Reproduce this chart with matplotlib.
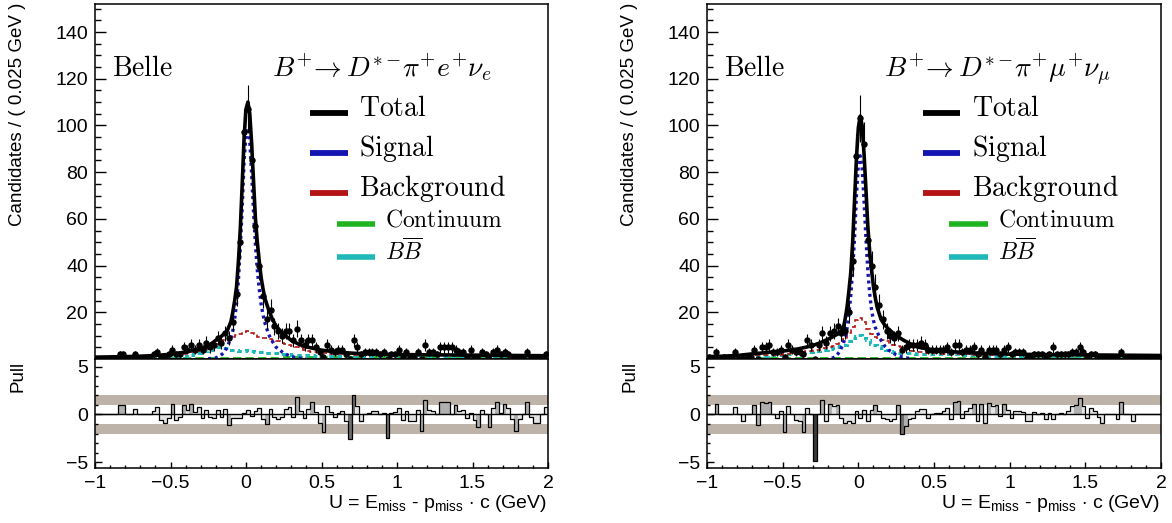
import numpy as np
import matplotlib
matplotlib.use('Agg')
import matplotlib.pyplot as plt

plt.rcParams['font.family'] = ['Liberation Sans', 'DejaVu Sans']
plt.rcParams['mathtext.fontset'] = 'custom'
plt.rcParams['mathtext.rm'] = 'Liberation Sans'
plt.rcParams['mathtext.it'] = 'Liberation Sans:italic'

# %% data: 120 bins of 0.025 GeV between -1 and 2
u_lo, u_hi, n_bins = -1.0, 2.0, 120

# electron channel
e_data = [0, 0, 0, 0, 0, 0, 2, 2, 0, 0,
          2, 0, 0, 0, 0, 2, 3, 1, 1, 2,
          4, 2, 2, 5, 4, 6, 4, 6, 4, 7,
          5, 6, 9, 7, 11, 9, 16, 28, 50, 97,
          107, 85, 57, 40, 27, 17, 21, 14, 12, 10,
          12, 12, 8, 13, 8, 6, 8, 8, 5, 3,
          1, 6, 4, 3, 4, 4, 2, 0, 8, 5,
          2, 3, 3, 3, 3, 2, 3, 0, 2, 2,
          4, 1, 3, 1, 1, 3, 0, 6, 3, 3,
          2, 5, 5, 5, 5, 4, 3, 3, 1, 4,
          1, 0, 3, 2, 0, 3, 4, 2, 3, 2,
          1, 0, 1, 1, 3, 1, 0, 0, 1, 2]
e_pull = [0, 0, 0, 0, 0, 0, 1.0, 1.0, 0, 0,
          0.6, 0, 0, 0, 0, 0.35, 0.8, -0.6, -0.9, -0.4,
          1.1, -0.6, -0.3, 1.0, 0.5, 1.1, 0.3, 0.8, -0.35, 0.5,
          -0.3, -0.4, 0.5, -0.3, 0.6, -1.1, -0.4, -0.4, -0.4, 0.2,
          0.5, -0.2, 0.4, 0.7, -0.5, -1.0, 0.6, -0.3, -0.5, -0.3,
          0.6, 0.8, -0.3, 1.85, 0.4, -0.4, 0.6, 1.3, 0.3, -0.9,
          -1.85, 0.9, 0.3, -0.3, 0.2, 0.4, -0.7, -2.6, 2.1, 0.9,
          -0.7, 0.0, 0.2, 0.35, 0.35, 0.0, 0.2, -2.5, 0.2, 0.25,
          0.7, -0.6, 0.4, -0.7, -0.7, 0.5, -1.75, 1.5, 0.5, 0.35,
          0.1, 1.3, 1.3, 1.3, 0.0, 1.05, 0.35, 0.5, -0.35, 0.2,
          -0.6, -1.3, 0.5, 0.0, -1.3, 0.7, 1.3, 0.2, 1.15, 0.7,
          -0.5, -1.75, -0.5, 0.0, 1.3, -0.3, -0.9, -0.9, 0, 0.8]
e_bkg = [1.0, 1.0, 1.0, 1.0, 1.1, 1.1, 1.1, 1.2, 1.2, 1.2,
         1.2, 1.3, 1.3, 1.3, 1.4, 1.4, 1.4, 1.5, 1.5, 1.6,
         1.6, 1.7, 2.0, 2.2, 2.5, 2.8, 3.2, 3.5, 4.0, 4.3,
         4.8, 5.2, 6.5, 7.5, 8.2, 8.5, 9.5, 10.3, 10.5, 11.5,
         12.0, 11.0, 10.5, 9.5, 9.0, 9.0, 8.5, 8.0, 7.5, 7.0,
         6.5, 6.0, 5.5, 5.2, 4.5, 4.0, 3.6, 3.2, 3.0, 2.8,
         2.6, 2.4, 2.3, 2.2, 2.1, 2.0, 2.0, 1.9, 1.9, 1.9,
         1.8, 1.8, 1.8, 1.8, 1.7, 1.7, 1.7, 1.7, 1.7, 1.7,
         1.6, 1.6, 1.6, 1.6, 1.6, 1.6, 1.6, 1.6, 1.6, 1.6,
         1.6, 1.6, 1.6, 1.5, 1.5, 1.5, 1.5, 1.5, 1.5, 1.5,
         1.5, 1.5, 1.5, 1.4, 1.4, 1.4, 1.4, 1.4, 1.4, 1.4,
         1.4, 1.4, 1.4, 1.4, 1.4, 1.3, 1.3, 1.3, 1.3, 1.3]
e_bb = [0.4] * 10 + \
       [0.5, 0.5, 0.5, 0.5, 0.6, 0.6, 0.7, 0.7, 0.8, 0.8,
        0.9, 0.9, 1.0, 1.0, 1.2, 1.5, 2.0, 2.5, 3.0, 3.5,
        4.0, 4.5, 5.0, 5.0, 4.8, 4.5, 4.0, 3.8, 3.5, 3.5,
        3.8, 3.5, 3.2, 3.0, 2.8, 2.6, 2.5, 2.5, 2.4, 2.3,
        2.2, 2.0, 1.9, 1.8, 1.7, 1.6, 1.5, 1.5, 1.4, 1.4,
        1.3, 1.3, 1.2, 1.2, 1.2, 1.1, 1.1, 1.1, 1.0, 1.0] + \
       [1.0] * 10 + [0.9] * 30 + [0.8] * 10
e_cont = [0.3] * 20 + [0.4] * 10 + [0.5] * 10 + [0.6] * 10 + [0.7] * 40 + [0.6] * 30

# muon channel
mu_data = [1, 0, 3, 0, 1, 0, 1, 3, 1, 0,
           1, 1, 4, 0, 5, 5, 6, 3, 3, 4,
           1, 6, 4, 3, 3, 2, 8, 6, 0, 6,
           11, 7, 11, 12, 14, 11, 12, 20, 42, 87,
           103, 92, 51, 40, 31, 23, 17, 12, 10, 9,
           11, 4, 5, 6, 6, 6, 7, 6, 4, 4,
           4, 4, 4, 5, 3, 6, 6, 3, 4, 4,
           5, 2, 4, 1, 4, 4, 4, 2, 4, 5,
           2, 3, 3, 3, 1, 1, 2, 2, 2, 1,
           2, 5, 2, 2, 2, 2, 3, 3, 5, 3,
           1, 2, 2, 1, 0, 1, 1, 1, 1, 3,
           1, 1, 0, 1, 0, 1, 1, 0, 1, 1]
mu_pull = [0, 0, 1.1, 0, 0, 0, 0, 0.77, 0, -0.7,
           0, 0, 1.05, -1.1, 1.3, 1.25, 1.3, 0, -0.35, 0.35,
           -1.8, 0.9, 0, -0.6, -0.7, -1.8, 0.7, 0, -4.9, 0,
           1.5, -0.7, 1.1, 0.9, 1.05, -0.35, -0.9, -0.7, -0.9, 0.35,
           -0.35, 0.5, -0.7, 0.5, 1.05, 0.35, -0.35, -0.5, -0.7, -0.5,
           1.0, -2.0, -1.2, -0.5, -0.35, 0.35, 0.6, 0.6, -0.35, 0,
           0.2, 0.2, 0.4, 0.7, -0.5, 1.3, 1.4, -0.35, 0.35, 0.7,
           1.1, -0.7, 1.1, -0.9, 1.2, 0.9, 1.05, -0.2, 1.1, 0.5,
           -0.35, 0.4, 0.35, 0.3, -0.7, -0.7, 0.3, 0, 0.2, -0.5,
           0.2, -0.5, 0, 0.2, 0, 0.4, 0.9, 1.05, 1.75, 0.9,
           -0.35, 0.7, 0.35, -0.3, -0.9, 0, 0, 0, -0.5, 1.3,
           0, 0, -0.7, 0, 0, 0, 0, 0, 0, 0]
mu_bkg = [1.0, 1.0, 1.1, 1.1, 1.2, 1.2, 1.3, 1.3, 1.4, 1.4,
          1.5, 1.5, 1.6, 1.6, 1.7, 1.7, 1.8, 1.8, 1.9, 1.9,
          2.0, 2.2, 2.4, 2.6, 2.8, 3.0, 3.3, 3.5, 3.8, 4.0,
          4.3, 4.6, 5.0, 5.5, 6.5, 7.5, 8.5, 11.0, 13.5, 16.5,
          17.5, 16.0, 13.0, 10.5, 9.5, 8.5, 8.0, 7.5, 6.5, 6.0,
          5.5, 5.0, 4.2, 3.8, 3.5, 3.2, 3.0, 2.8, 2.6, 2.5,
          2.4, 2.3, 2.3, 2.2, 2.2, 2.1, 2.1, 2.0, 2.0, 2.0] + \
         [1.9] * 10 + [1.8] * 10 + [1.7] * 10 + [1.6] * 10 + [1.5] * 10
mu_bb = [0.8, 0.8, 0.8, 0.9, 0.9, 0.9, 1.0, 1.0, 1.0, 1.1,
         1.1, 1.1, 1.2, 1.2, 1.3, 1.3, 1.5, 1.6, 1.7, 1.8,
         2.0, 2.1, 2.2, 2.4, 2.5, 2.7, 3.0, 3.2, 3.4, 3.6,
         3.8, 4.0, 4.2, 4.8, 5.3, 5.5, 6.0, 7.5, 9.0, 9.8,
         10.3, 9.0, 8.0, 6.5, 6.0, 5.5, 4.5, 4.0, 3.5, 3.0,
         2.7, 2.5, 2.5, 2.4, 2.4, 2.3, 2.3, 2.2, 2.2, 2.1,
         2.1, 2.1, 2.0, 2.0, 2.0, 2.0, 2.0, 1.9, 1.9, 1.8,
         1.7, 1.6, 1.5, 1.4, 1.4, 1.3, 1.3, 1.3, 1.2, 1.2] + \
        [1.2] * 10 + [1.1] * 20 + [1.0] * 10
mu_cont = [0.5] * 120

# fitted curves, read at these U values
curve_u = [-1.0, -0.9, -0.8, -0.7, -0.6, -0.5, -0.45, -0.4, -0.35, -0.3,
           -0.25, -0.2, -0.175, -0.15, -0.125, -0.1, -0.0875, -0.075, -0.0625, -0.05,
           -0.0375, -0.025, -0.0125, 0.0, 0.0125, 0.025, 0.0375, 0.05, 0.0625, 0.075,
           0.0875, 0.1, 0.1125, 0.125, 0.15, 0.175, 0.2, 0.25, 0.3, 0.35,
           0.4, 0.5, 0.6, 0.7, 0.8, 1.0, 1.2, 1.4, 1.6, 1.8, 2.0]
e_total = [0.8, 0.9, 1.0, 1.2, 1.5, 2.0, 2.5, 3.0, 3.8, 4.5,
           5.5, 8.0, 9.0, 10.5, 12.0, 16.0, 20.0, 25.0, 31.0, 42.0,
           56.0, 75.0, 95.0, 107.0, 110.0, 105.0, 92.0, 76.0, 60.0, 50.0,
           42.0, 35.0, 30.0, 26.0, 21.0, 17.0, 14.0, 10.5, 8.0, 6.3,
           5.2, 3.8, 3.0, 2.5, 2.2, 1.9, 1.8, 1.7, 1.6, 1.5, 1.4]
e_signal = [0, 0, 0, 0, 0, 0, 0, 0, 0, 0,
            0.1, 0.5, 1.2, 2.5, 5.0, 9.0, 12.0, 17.0, 24.0, 34.0,
            48.0, 65.0, 85.0, 96.0, 99.0, 93.0, 79.0, 63.0, 49.0, 38.0,
            30.0, 23.5, 19.0, 15.5, 10.5, 7.5, 5.0, 2.5, 1.0, 0.4,
            0.1, 0, 0, 0, 0, 0, 0, 0, 0, 0, 0]
mu_total = [1.0, 1.2, 1.5, 2.2, 2.8, 3.4, 3.8, 4.3, 5.0, 5.8,
            7.0, 8.5, 9.3, 10.2, 11.3, 13.0, 17.0, 22.0, 29.0, 37.0,
            50.0, 68.0, 86.0, 99.0, 104.0, 100.0, 88.0, 73.0, 57.0, 46.0,
            38.0, 31.0, 26.0, 22.0, 17.0, 14.5, 12.8, 10.0, 8.0, 6.3,
            5.0, 3.8, 3.2, 2.8, 2.5, 2.1, 1.9, 1.8, 1.7, 1.6, 1.5]
mu_signal = [0, 0, 0, 0, 0, 0, 0, 0, 0, 0,
             0, 0, 0.3, 1.0, 3.0, 6.5, 9.0, 13.0, 19.0, 27.0,
             38.0, 52.0, 70.0, 83.0, 87.0, 82.0, 68.0, 52.0, 38.0, 28.0,
             21.0, 16.5, 13.5, 11.5, 8.0, 5.5, 3.8, 1.8, 0.6, 0.2,
             0, 0, 0, 0, 0, 0, 0, 0, 0, 0, 0]

e_title = r'$B^{+}\!\rightarrow D^{*-}\!\pi^{+}e^{+}\nu_{e}$'
mu_title = r'$B^{+}\!\rightarrow D^{*-}\!\pi^{+}\mu^{+}\nu_{\mu}$'

# %% styles
c_sig = '#1414b0'
c_bkg = '#b41414'
c_cont = '#1fb41f'
c_bb = '#1fb8b8'
c_band = '#bdb3a9'

W, H = 1172, 523
fig = plt.figure(figsize=(W / 100, H / 100), dpi=100)

edges = np.linspace(u_lo, u_hi, n_bins + 1)
centers = 0.5 * (edges[1:] + edges[:-1])


def pull_colour(p):
    a = abs(p)
    if a >= 3:
        return '#3c3c3c'
    if a >= 2:
        return '#6e6e6e'
    if a >= 1:
        return '#b0b0b0'
    return '#e4e4e4'


def draw_panel(x0_px, x1_px, data, pull, bkg, bb, cont, total, signal, title):
    xf = x0_px / W
    wf = (x1_px - x0_px) / W
    top, mid, bot = 4, 359, 468
    ax = fig.add_axes([xf, 1 - mid / H, wf, (mid - top) / H])
    axp = fig.add_axes([xf, 1 - bot / H, wf, (bot - mid) / H])

    # background components (histogram templates)
    ax.stairs(cont, edges, color=c_cont, lw=2.0, ls=(0, (3, 1.5)), baseline=None, zorder=2)
    ax.stairs(bb, edges, color=c_bb, lw=2.2, ls=(0, (1.5, 1.2)), baseline=None, zorder=2)
    ax.stairs(bkg, edges, color=c_bkg, lw=1.2, ls=(0, (3, 2)), baseline=None, zorder=2)
    sig = np.array(signal, dtype=float)
    sig[sig <= 0] = np.nan
    ax.plot(curve_u, sig, color=c_sig, lw=2.4, ls=(0, (0.9, 1.1)), zorder=3)
    ax.plot(curve_u, total, color='k', lw=2.6, zorder=4, solid_joinstyle='round')

    d = np.array(data, dtype=float)
    ax.errorbar(centers, d, yerr=np.sqrt(d), fmt='o', color='k', ms=3.6,
                elinewidth=0.8, capsize=0, zorder=5)

    ax.set_xlim(u_lo, u_hi)
    ax.set_ylim(0, 152)
    ax.set_yticks(range(20, 141, 20))
    ax.set_yticks(range(0, 151, 5), minor=True)
    ax.tick_params(axis='y', which='major', direction='in', length=8, width=1, labelsize=14, pad=5)
    ax.tick_params(axis='y', which='minor', direction='in', length=4.3, width=1)
    ax.tick_params(axis='x', which='both', bottom=False, labelbottom=False)
    for s in ax.spines.values():
        s.set_linewidth(1.1)

    tr = ax.transAxes
    ax.text(0.038, 0.797, r'$\mathrm{Belle}$', transform=tr, fontsize=20,
            math_fontfamily='cm', va='baseline')
    ax.text(0.39, 0.797, title, transform=tr, fontsize=20, math_fontfamily='cm', va='baseline')

    big = [(r'$\mathrm{Total}$', 'k', 0.693), (r'$\mathrm{Signal}$', c_sig, 0.580),
           (r'$\mathrm{Background}$', c_bkg, 0.468)]
    for lab, col, y in big:
        ax.plot([0.475, 0.558], [y, y], color=col, lw=4.2, transform=tr, solid_capstyle='butt')
        ax.text(0.583, y - 0.008, lab, transform=tr, fontsize=20, math_fontfamily='cm', va='baseline')
    small = [(r'$\mathrm{Continuum}$', c_cont, 0.380), (r'$B\overline{B}$', c_bb, 0.287)]
    for lab, col, y in small:
        ax.plot([0.534, 0.618], [y, y], color=col, lw=4.0, transform=tr, solid_capstyle='butt')
        ax.text(0.640, y - 0.008, lab, transform=tr, fontsize=17, math_fontfamily='cm', va='baseline')

    # pull pad
    axp.axhspan(1, 2, color=c_band, lw=0, zorder=0)
    axp.axhspan(-2, -1, color=c_band, lw=0, zorder=0)
    axp.bar(centers, pull, width=edges[1] - edges[0], color=[pull_colour(p) for p in pull],
            edgecolor='none', zorder=1)
    axp.stairs(pull, edges, color='k', lw=0.9, baseline=0, zorder=2)
    axp.axhline(0, color='k', lw=1.0, zorder=3)
    axp.set_xlim(u_lo, u_hi)
    axp.set_ylim(-5.63, 5.84)
    axp.set_yticks([-5, 0, 5])
    axp.set_yticks(range(-5, 6), minor=True)
    axp.set_xticks([-1, -0.5, 0, 0.5, 1, 1.5, 2])
    axp.set_xticklabels(['\u22121', '\u22120.5', '0', '0.5', '1', '1.5', '2'])
    axp.set_xticks(np.arange(-1, 2.01, 0.1), minor=True)
    axp.tick_params(axis='y', which='major', direction='in', length=5, width=1, labelsize=14, pad=5)
    axp.tick_params(axis='y', which='minor', direction='in', length=2.5, width=1)
    axp.tick_params(axis='x', which='major', direction='in', length=4.5, width=1, labelsize=14, pad=5)
    axp.tick_params(axis='x', which='minor', direction='in', length=2.3, width=1)
    for s in axp.spines.values():
        s.set_linewidth(1.1)

    fig.text((x0_px - 77) / W, 1 - 3 / H, 'Candidates / ( 0.025 GeV )', rotation=90,
             ha='center', va='top', fontsize=13.5)
    fig.text((x0_px - 77) / W, 1 - 361 / H, 'Pull', rotation=90, ha='center', va='top', fontsize=13.5)
    fig.text((x1_px - 1) / W, 1 - 508 / H,
             r'U = E$_{\mathregular{miss}}$ - p$_{\mathregular{miss}}$ $\cdot$ c (GeV)',
             ha='right', va='baseline', fontsize=14)


draw_panel(95, 548, e_data, e_pull, e_bkg, e_bb, e_cont, e_total, e_signal, e_title)
draw_panel(707, 1161, mu_data, mu_pull, mu_bkg, mu_bb, mu_cont, mu_total, mu_signal, mu_title)

fig.savefig('out.png', dpi=100)
